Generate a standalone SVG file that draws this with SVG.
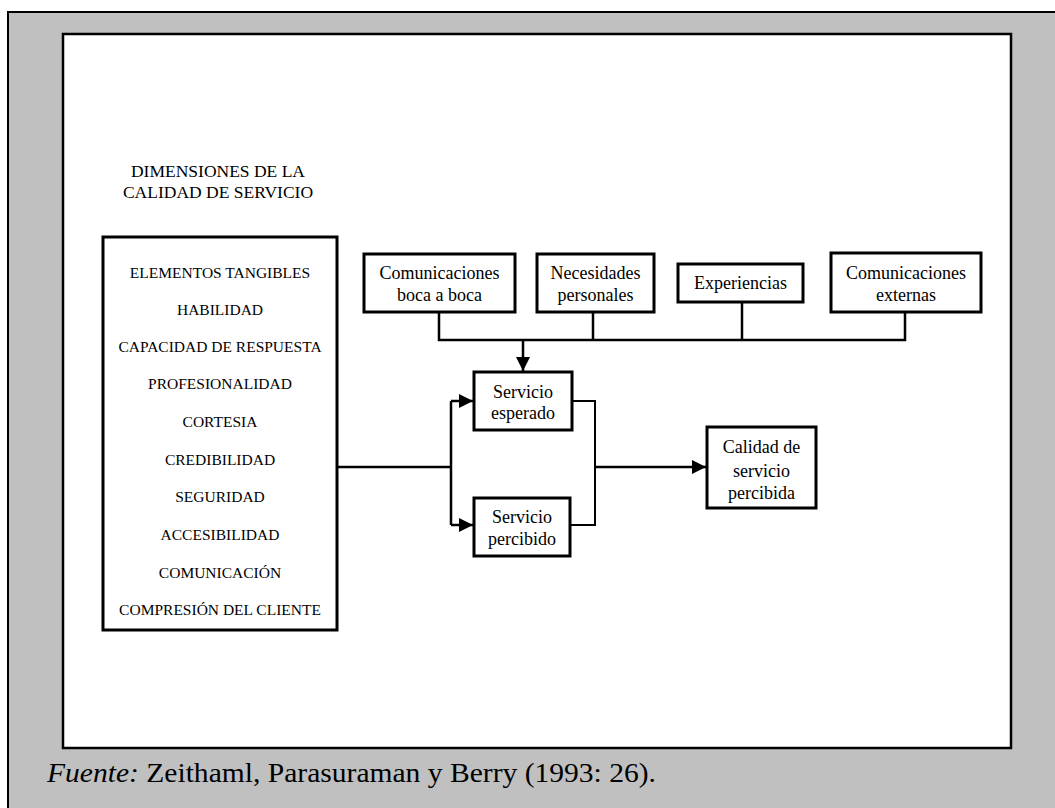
<svg xmlns="http://www.w3.org/2000/svg" width="1055" height="808" viewBox="0 0 1055 808">
  <style>
    text { font-family: "Liberation Serif", "Times New Roman", serif; fill: #000; }
    .box { fill: #fff; stroke: #000; stroke-width: 3; }
    .lbl { font-size: 18px; text-anchor: middle; }
    .dim { font-size: 15.5px; text-anchor: middle; }
    .ttl { font-size: 17.5px; text-anchor: middle; }
    .src { font-family: "Liberation Serif", serif; font-size: 27px; }
    .wire { fill: none; stroke: #000; stroke-width: 2.5; }
    .thin { fill: none; stroke: #000; stroke-width: 2; }
  </style>
  <defs>
    <marker id="arrow" markerUnits="userSpaceOnUse" markerWidth="15" markerHeight="15" refX="14" refY="7" orient="auto">
      <path d="M0,0 L14,7 L0,14 Z" fill="#000"/>
    </marker>
  </defs>

  <!-- frame -->
  <rect x="8" y="12" width="1060" height="810" fill="#c0c0c0" stroke="#000" stroke-width="2"/>
  <rect x="63" y="34" width="948" height="714" fill="#fff" stroke="#000" stroke-width="2.5"/>

  <!-- heading of the dimensions list -->
  <g id="titulo">
    <text class="ttl" x="218" y="177">DIMENSIONES DE LA</text>
    <text class="ttl" x="218" y="198">CALIDAD DE SERVICIO</text>
  </g>

  <g id="dimensiones">
    <rect class="box" x="103" y="237" width="234" height="393"/>
    <text class="dim" x="220" y="278">ELEMENTOS TANGIBLES</text>
    <text class="dim" x="220" y="315">HABILIDAD</text>
    <text class="dim" x="220" y="352">CAPACIDAD DE RESPUESTA</text>
    <text class="dim" x="220" y="389">PROFESIONALIDAD</text>
    <text class="dim" x="220" y="427">CORTESIA</text>
    <text class="dim" x="220" y="465">CREDIBILIDAD</text>
    <text class="dim" x="220" y="502">SEGURIDAD</text>
    <text class="dim" x="220" y="540">ACCESIBILIDAD</text>
    <text class="dim" x="220" y="578">COMUNICACIÓN</text>
    <text class="dim" x="220" y="615">COMPRESIÓN DEL CLIENTE</text>
  </g>

  <g id="boca-a-boca">
    <rect class="box" x="364" y="254" width="151" height="58"/>
    <text class="lbl" x="439.5" y="279">Comunicaciones</text>
    <text class="lbl" x="439.5" y="301">boca a boca</text>
  </g>

  <g id="necesidades">
    <rect class="box" x="537" y="254" width="117" height="58"/>
    <text class="lbl" x="595.5" y="279">Necesidades</text>
    <text class="lbl" x="595.5" y="301">personales</text>
  </g>

  <g id="experiencias">
    <rect class="box" x="678" y="264" width="125" height="38"/>
    <text class="lbl" x="740.5" y="289">Experiencias</text>
  </g>

  <g id="externas">
    <rect class="box" x="831" y="253" width="150" height="59"/>
    <text class="lbl" x="906" y="279">Comunicaciones</text>
    <text class="lbl" x="906" y="301">externas</text>
  </g>

  <g id="esperado">
    <rect class="box" x="474" y="372" width="98" height="58"/>
    <text class="lbl" x="523" y="398">Servicio</text>
    <text class="lbl" x="523" y="419">esperado</text>
  </g>

  <g id="percibido">
    <rect class="box" x="474" y="498" width="96" height="58"/>
    <text class="lbl" x="522" y="523">Servicio</text>
    <text class="lbl" x="522" y="545">percibido</text>
  </g>

  <g id="calidad">
    <rect class="box" x="707" y="427" width="109" height="81"/>
    <text class="lbl" x="761.5" y="453">Calidad de</text>
    <text class="lbl" x="761.5" y="477">servicio</text>
    <text class="lbl" x="761.5" y="499">percibida</text>
  </g>

  <g id="conectores">
    <!-- collector bus from the four expectation sources -->
    <path class="wire" d="M439,312 V340 H905 V312"/>
    <path class="wire" d="M593,312 V340"/>
    <path class="wire" d="M742,302 V340"/>
    <path class="wire" d="M523,340 V371" marker-end="url(#arrow)"/>
    <!-- dimensions feed both services -->
    <path class="wire" d="M337,467 H451"/>
    <path class="wire" d="M451,401 V525"/>
    <path class="wire" d="M451,401 H473" marker-end="url(#arrow)"/>
    <path class="wire" d="M451,525 H473" marker-end="url(#arrow)"/>
    <!-- gap between expected and perceived service -->
    <path class="thin" d="M572,401 H595 V525 H570"/>
    <path class="wire" d="M595,467 H706" marker-end="url(#arrow)"/>
  </g>

  <text class="src" x="47" y="782" textLength="609" lengthAdjust="spacingAndGlyphs"><tspan font-style="italic">Fuente:</tspan> Zeithaml, Parasuraman y Berry (1993: 26).</text>
</svg>
